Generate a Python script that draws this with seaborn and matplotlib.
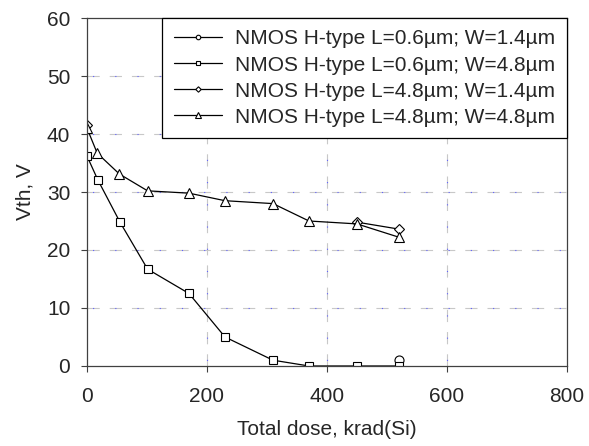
import matplotlib
matplotlib.use("Agg")
import matplotlib.pyplot as plt
import seaborn as sns
import pandas as pd
import numpy as np

# ---- data ----
dose_sq = [0, 18, 55, 101, 170, 230, 310, 370, 450, 520]
vth_sq = [36.2, 32.1, 24.8, 16.7, 12.5, 5.0, 1.0, 0.0, 0.0, 0.0]

dose_tri = [0, 17, 54, 101, 170, 230, 310, 370, 450, 520]
vth_tri = [41.0, 36.7, 33.1, 30.2, 29.8, 28.5, 28.0, 25.0, 24.5, 22.2]

dose_dia_a = [0]
vth_dia_a = [41.5]
dose_dia_b = [450, 520]
vth_dia_b = [24.8, 23.6]

dose_circ = [520]
vth_circ = [1.0]

labels = ["NMOS H-type L=0.6\u00b5m; W=1.4\u00b5m",
          "NMOS H-type L=0.6\u00b5m; W=4.8\u00b5m",
          "NMOS H-type L=4.8\u00b5m; W=1.4\u00b5m",
          "NMOS H-type L=4.8\u00b5m; W=4.8\u00b5m"]
xticks = [0, 200, 400, 600, 800]
yticks = [0, 10, 20, 30, 40, 50, 60]

sns.set_theme(style="white")
plt.rcParams['font.family'] = ['Liberation Sans', 'DejaVu Sans']

fig = plt.figure(figsize=(5.89, 4.46), dpi=100)
ax = fig.add_axes([0.1477, 0.1794, 0.8149, 0.7802])

# grid: gray dashes with blue dots
for yv in yticks[1:-1]:
    ax.axhline(yv, color='#c8c8c8', lw=0.8, ls=(0, (11, 9)), zorder=0)
    ax.axhline(yv, color='#6060ff', lw=0.8, ls=(15, (1, 19)), zorder=0)
for xv in xticks[1:-1]:
    ax.axvline(xv, color='#c8c8c8', lw=0.8, ls=(0, (11, 9)), zorder=0)
    ax.axvline(xv, color='#6060ff', lw=0.8, ls=(15, (1, 19)), zorder=0)

mk = dict(color='black', linewidth=0.9, markerfacecolor='white',
          markeredgecolor='black', markeredgewidth=0.8)

sns.lineplot(x=dose_circ, y=vth_circ, marker='o', ax=ax, label=labels[0],
             markersize=6.5, **mk)
sns.lineplot(x=dose_sq, y=vth_sq, marker='s', ax=ax, label=labels[1],
             markersize=6, **mk)
sns.lineplot(x=dose_dia_a, y=vth_dia_a, marker='D', ax=ax, label=labels[2],
             markersize=5.5, **mk)
sns.lineplot(x=dose_dia_b, y=vth_dia_b, marker='D', ax=ax,
             markersize=5.5, **mk)
sns.lineplot(x=dose_tri, y=vth_tri, marker='^', ax=ax, label=labels[3],
             markersize=7.5, **mk)

ax.set_xlim(0, 800)
ax.set_ylim(0, 60)
ax.set_xticks(xticks)
ax.set_yticks(yticks)
ax.tick_params(axis='both', which='both', direction='out', length=4,
               width=0.8, color='#404040', labelsize=15,
               bottom=True, left=True)
ax.tick_params(axis='x', pad=11)
ax.tick_params(axis='y', pad=8)
for s in ax.spines.values():
    s.set_color('#404040')
    s.set_linewidth(0.9)
    s.set_visible(True)

ax.set_xlabel("Total dose, krad(Si)", fontsize=15, labelpad=10)
ax.set_ylabel("Vth, V", fontsize=15, labelpad=9)

leg = ax.legend(loc='upper right', bbox_to_anchor=(1.0, 1.0),
                fontsize=15, markerscale=0.5, frameon=True, fancybox=False,
                framealpha=1, edgecolor='black', borderpad=0.55,
                handlelength=2.3, handletextpad=0.65, labelspacing=0.34,
                borderaxespad=0)
leg.get_frame().set_linewidth(0.9)
leg.set_zorder(5)

fig.savefig("out.png", dpi=100)
